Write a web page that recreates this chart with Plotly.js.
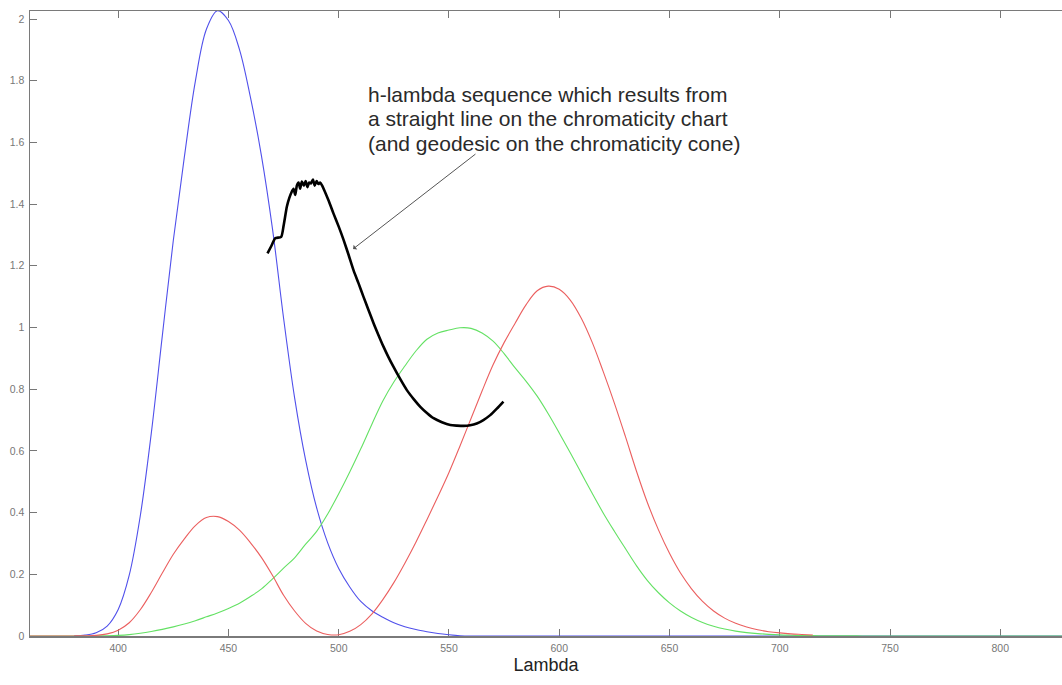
<!DOCTYPE html>
<html>
<head>
<meta charset="utf-8">
<script src="https://cdn.plot.ly/plotly-3.0.1.min.js"></script>
<style>
  html, body { margin: 0; padding: 0; background: #ffffff; overflow: hidden; }
  #chart { width: 1062px; height: 685px; }
</style>
</head>
<body>
<div id="chart"></div>
<script>
// Wavelength grid (nm)
const lambda = [360,365,370,375,380,385,390,395,400,405,410,415,420,425,430,435,440,445,450,455,
  460,465,470,475,480,485,490,495,500,505,510,515,520,525,530,535,540,545,550,555,
  560,565,570,575,580,585,590,595,600,605,610,615,620,625,630,635,640,645,650,655,
  660,665,670,675,680,685,690,695,700,705,710,715,720,725,730,735,740,745,750,755,
  760,765,770,775,780,785,790,795,800,805,810,815,820,825,830];

// Red curve (x-bar)
const xbar = [0,0,0,0,0.0002,0.0007,0.002,0.007,0.019,0.043,0.085,0.141,0.204,0.265,0.315,0.358,0.384,0.387,0.371,0.343,
  0.302,0.254,0.196,0.132,0.081,0.041,0.016,0.005,0.004,0.015,0.037,0.071,0.118,0.173,0.236,0.304,0.377,0.452,0.530,0.616,
  0.705,0.794,0.879,0.951,1.014,1.074,1.119,1.134,1.124,1.089,1.030,0.951,0.856,0.755,0.647,0.535,0.432,0.344,0.268,0.204,
  0.153,0.112,0.081,0.058,0.041,0.029,0.020,0.014,0.010,0.007,0.005,0.003,null,null,null,null,null,null,null,null,
  null,null,null,null,null,null,null,null,null,null,null,null,null,null,null];

// Green curve (y-bar)
const ybar = [0,0,0,0,0.0000,0.0001,0.0003,0.0008,0.0020,0.0045,0.0088,0.0145,0.0214,0.0295,0.0387,0.0496,0.0621,0.0747,0.0895,0.1063,
  0.1282,0.1528,0.1852,0.2199,0.2536,0.2977,0.3391,0.3954,0.4608,0.5314,0.6067,0.6857,0.7618,0.8233,0.8752,0.9238,0.9620,0.9822,0.9918,0.9991,
  0.9973,0.9824,0.9556,0.9152,0.8689,0.8256,0.7774,0.7204,0.6583,0.5939,0.5280,0.4618,0.3981,0.3396,0.2835,0.2283,0.1798,0.1402,0.1076,0.0812,
  0.0603,0.0441,0.0318,0.0226,0.0159,0.0111,0.0077,0.0054,0.0037,0.0026,0.0018,0.0012,0.0008,0.0006,0.0004,0.0003,0.0002,0.0001,0.0001,0,
  0,0,0,0,0,0,0,0,0,0,0,0,0,0,0];

// Blue curve (z-bar)
const zbar = [null,null,null,null,0.0007,0.0029,0.0105,0.0323,0.086,0.197,0.389,0.657,0.973,1.283,1.553,1.799,1.967,2.027,1.995,1.901,
  1.745,1.555,1.318,1.030,0.772,0.570,0.415,0.302,0.219,0.159,0.112,0.082,0.061,0.043,0.030,0.021,0.014,0.008,0.004,0.001,
  0,0,0,0,0,0,0,0,0,0,0,0,0,0,0,0,0,0,0,0,
  0,0,0,0,0,0,0,0,0,0,0,0,0,0,0,0,0,0,0,0,
  0,0,0,0,0,0,0,0,0,0,0,0,0,0,0];

// Black h-lambda sequence
const hLambda = [467.7,469.5,471.2,473.9,475.0,476.5,477.6,478.7,479.5,480.3,481.0,481.8,482.5,483.3,484.2,485.0,485.8,486.6,487.4,488.3,
  489.1,490.0,490.8,491.6,492.5,493.4,495.5,497.6,500.0,502.2,504.5,506.7,509.0,511.2,513.5,515.8,518.0,520.3,522.5,524.8,
  527.8,530.9,534.0,537.0,540.0,543.0,546.8,550.6,553.6,556.6,559.6,562.6,565.6,568.7,571.7,574.7];
const hValue = [1.240,1.265,1.289,1.294,1.330,1.392,1.420,1.440,1.450,1.430,1.460,1.470,1.450,1.473,1.460,1.475,1.455,1.470,1.467,1.480,
  1.460,1.475,1.465,1.470,1.460,1.446,1.410,1.370,1.327,1.284,1.235,1.186,1.143,1.100,1.057,1.014,0.976,0.938,0.905,0.873,
  0.834,0.797,0.768,0.743,0.723,0.706,0.693,0.684,0.682,0.681,0.683,0.689,0.700,0.716,0.737,0.760];

const noteLines = ['h-lambda sequence which results from', 'a straight line on the chromaticity chart', '(and geodesic on the chromaticity cone)'];
const xTitle = 'Lambda';

const traces = [
  {x: lambda, y: zbar, mode: 'lines', line: {color: 'rgb(80,80,235)', width: 1.1, shape: 'spline', smoothing: 1}, hoverinfo: 'skip', connectgaps: false},
  {x: lambda, y: ybar, mode: 'lines', line: {color: 'rgb(100,225,100)', width: 1.1, shape: 'spline', smoothing: 1}, hoverinfo: 'skip'},
  {x: lambda, y: xbar, mode: 'lines', line: {color: 'rgb(235,95,95)', width: 1.1, shape: 'spline', smoothing: 1}, hoverinfo: 'skip', connectgaps: false},
  {x: hLambda, y: hValue, mode: 'lines', line: {color: '#000000', width: 2.6, shape: 'spline', smoothing: 0.6}, hoverinfo: 'skip'}
];

const fontFam = '"Liberation Sans", Arial, sans-serif';
const noteY = [1.754, 1.676, 1.598];
const annotations = noteLines.map((t, i) => ({
  xref: 'x', yref: 'y',
  x: 512.4, y: noteY[i],
  xanchor: 'left', yanchor: 'middle', align: 'left',
  text: t, showarrow: false,
  font: {size: 21, color: '#2a2a2a', family: fontFam}
}));
annotations.push({
  xref: 'x', yref: 'y', axref: 'x', ayref: 'y',
  x: 506.5, y: 1.2545,
  ax: 562.7, ay: 1.566,
  text: '',
  showarrow: true,
  arrowhead: 1, arrowsize: 1, arrowwidth: 1, arrowcolor: '#555'
});

const layout = {
  width: 1062,
  height: 685,
  margin: {l: 30, r: 0, t: 11, b: 49, pad: 0},
  paper_bgcolor: '#ffffff',
  plot_bgcolor: '#ffffff',
  showlegend: false,
  font: {family: fontFam, color: '#222'},
  xaxis: {
    range: [360, 828],
    tick0: 400, dtick: 50,
    ticks: 'inside', ticklen: 7, tickwidth: 1, tickcolor: '#777',
    showline: true, linecolor: '#7a7a7a', linewidth: 1.5,
    mirror: 'ticks',
    showgrid: false, zeroline: false,
    layer: 'below traces',
    tickfont: {size: 10.5, color: '#777', family: fontFam},
    ticklabelstandoff: 2,
    title: {text: xTitle, font: {size: 18, color: '#222', family: fontFam}, standoff: 5}
  },
  yaxis: {
    range: [0, 2.026],
    tick0: 0, dtick: 0.2,
    ticks: 'inside', ticklen: 7, tickwidth: 1, tickcolor: '#777',
    showline: true, linecolor: '#7a7a7a', linewidth: 1.5,
    mirror: false,
    showgrid: false, zeroline: false,
    layer: 'below traces',
    tickfont: {size: 10.5, color: '#777', family: fontFam},
    ticklabelstandoff: 2
  },
  annotations: annotations
};

Plotly.newPlot('chart', traces, layout, {displayModeBar: false, staticPlot: true});
</script>
</body>
</html>
